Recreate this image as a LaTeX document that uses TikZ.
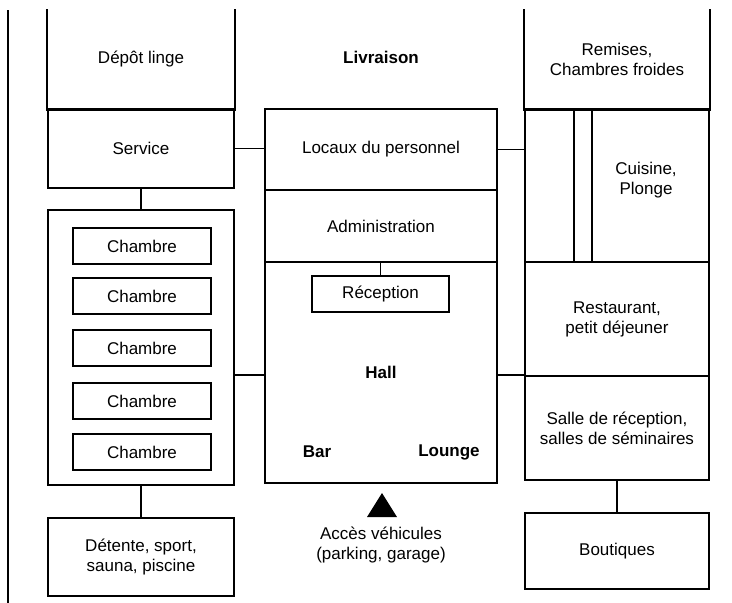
\documentclass[tikz,border=0pt]{standalone}
\usepackage{fontspec}
\setmainfont{Liberation Sans}
\usetikzlibrary{calc}

\begin{document}
\begin{tikzpicture}[x=1pt, y=-1pt,
  wall/.style={line width=1.6pt},
  capt/.style={font=\fontsize{17}{20}\selectfont, align=center, inner sep=0pt},
  room/.style={capt, draw, line width=1.6pt, minimum width=186pt},
  cell/.style={capt, draw, line width=1.4pt, minimum width=138pt, minimum height=36pt}]

  \useasboundingbox (0,0) rectangle (732,603);
  \draw[wall] (8,10) -- (8,603);

  % left wing
  \node[room, draw=none, minimum height=99pt] (depot) at (141,59.5) {Dépôt linge};
  \draw[wall] (depot.north west) -- (depot.south west) -- (depot.south east) -- (depot.north east);
  \node[room, minimum height=79pt] (service) at (141,148.5) {Service};
  \node[room, minimum height=275pt] (chambres) at (141,347.5) {};
  \foreach \y [count=\i] in {246,296,348,401,452}
    \node[cell] (ch\i) at (142,\y) {Chambre};
  \node[room, minimum height=78pt] (detente) at (141,557) {Détente, sport,\\sauna, piscine};

  % central block
  \node[capt, font=\fontsize{17}{20}\selectfont\bfseries] (livraison) at (381,57) {Livraison};
  \node[room, minimum width=232pt, minimum height=81pt] (locaux) at (381,149.5) {Locaux du personnel};
  \node[room, minimum width=232pt, minimum height=72pt] (admin) at (381,226) {Administration};
  \node[room, minimum width=232pt, minimum height=221pt] (hall) at (381,372.5) {\bfseries Hall};
  \node[cell, minimum width=137pt] (reception) at (380.5,294) {Réception};
  \node[capt, font=\fontsize{17}{20}\selectfont\bfseries] (bar) at (317,452) {Bar};
  \node[capt, font=\fontsize{17}{20}\selectfont\bfseries] (lounge) at (449,452) {Lounge};
  \fill (367,517) -- (382,493) -- (397,517) -- cycle;
  \node[capt] (acces) at (381,545) {Accès véhicules\\(parking, garage)};

  % right wing
  \node[room, draw=none, minimum width=184pt, minimum height=99pt] (remises) at (617,59.5) {Remises,\\Chambres froides};
  \draw[wall] (remises.north west) -- (remises.south west) -- (remises.south east) -- (remises.north east);
  \node[room, minimum width=184pt, minimum height=153pt] (cuisine) at (617,185.5) {};
  \node[capt] (plonge) at (646,180) {Cuisine,\\Plonge};
  \draw[wall] ($(cuisine.north west)+(50,0)$) -- ($(cuisine.south west)+(50,0)$);
  \draw[wall] ($(cuisine.north west)+(68,0)$) -- ($(cuisine.south west)+(68,0)$);
  \node[room, minimum width=184pt, minimum height=114pt] (resto) at (617,319) {Restaurant,\\petit déjeuner};
  \node[room, minimum width=184pt, minimum height=104pt] (salle) at (617,428) {Salle de réception,\\salles de séminaires};
  \node[room, minimum width=184pt, minimum height=76pt] (boutiques) at (617,551) {Boutiques};

  % links
  \draw[wall] (service.east) -- (service.east -| locaux.west);
  \draw[wall] (locaux.east) -- (locaux.east -| cuisine.west);
  \draw[wall] (service.south) -- (service.south |- chambres.north);
  \draw[wall] (chambres.south) -- (chambres.south |- detente.north);
  \draw[wall] (hall.west |- salle.north west) -- (chambres.east |- salle.north west);
  \draw[wall] (salle.north west) -- (salle.north west -| hall.east);
  \draw[wall] (reception.north) -- (reception.north |- hall.north);
  \draw[wall] (salle.south) -- (boutiques.north);

\end{tikzpicture}
\end{document}
